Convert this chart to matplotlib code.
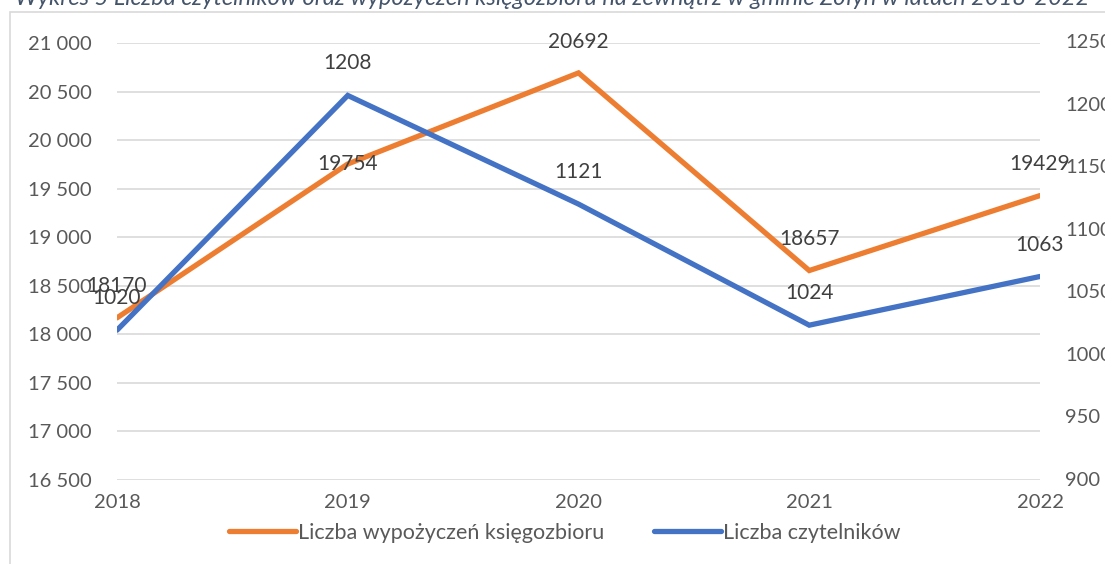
import matplotlib.pyplot as plt
from matplotlib.patches import Rectangle
from matplotlib.transforms import blended_transform_factory

# --- data ---
lata = ["2018", "2019", "2020", "2021", "2022"]
wypozyczenia = [18170, 19754, 20692, 18657, 19429]
czytelnicy = [1020, 1208, 1121, 1024, 1063]

lewe_ticki = list(range(16500, 21001, 500))
prawe_ticki = list(range(900, 1251, 50))

ORANGE = "#ED7D31"
BLUE = "#4472C4"
GRID = "#D9D9D9"
TXT = "#595959"
LBL = "#404040"

plt.rcParams["font.family"] = ["Lato", "DejaVu Sans"]

W, H = 1105, 564
fig = plt.figure(figsize=(W / 100, H / 100), dpi=100)

# ramka wykresu (wychodzi poza obraz)
fig.patches.append(Rectangle((10 / W, -0.1), 1.2, 1 - 12 / H + 0.1,
                             transform=fig.transFigure, fill=False,
                             edgecolor=GRID, linewidth=1.2))

# tytuł (ucięty u góry)
fig.text(0.5, 1 - 5 / H,
         "Wykres 5 Liczba czytelników oraz wypożyczeń księgozbioru na zewnątrz w gminie Żołyń w latach 2018-2022",
         ha="center", va="baseline", fontsize=17, style="italic", color="#44546A")

ax = fig.add_axes([117 / W, 1 - 480 / H, (1040 - 117) / W, (480 - 43) / H])
x = list(range(len(lata)))

ax.set_xlim(0, len(lata) - 1)
ax.set_ylim(16500, 21000)
ax.set_yticks(lewe_ticki)
ax.set_yticklabels([f"{v:,}".replace(",", " ") for v in lewe_ticki])
ax.set_xticks(x)
ax.set_xticklabels(lata)
ax.grid(axis="y", color=GRID, linewidth=1.2)
ax.set_axisbelow(True)
for s in ax.spines.values():
    s.set_visible(False)
ax.tick_params(length=0, labelsize=14.5, colors=TXT)
ax.tick_params(axis="y", pad=18)
ax.tick_params(axis="x", pad=10)

l1, = ax.plot(x, wypozyczenia, color=ORANGE, linewidth=3.8, solid_capstyle="round",
              solid_joinstyle="miter", label="Liczba wypożyczeń księgozbioru")

ax2 = ax.twinx()
ax2.set_ylim(900, 1250)
ax2.set_yticks([])
for s in ax2.spines.values():
    s.set_visible(False)
# prawa oś - etykiety rysowane ręcznie, żeby trzymać odstęp
tr = blended_transform_factory(ax2.transAxes, ax2.transData)
for v in prawe_ticki:
    ax2.text(1 + 25 / 923, v, str(v), transform=tr, ha="left", va="center",
             fontsize=14.5, color=TXT, clip_on=False)

l2, = ax2.plot(x, czytelnicy, color=BLUE, linewidth=3.8, solid_capstyle="round",
               solid_joinstyle="miter", label="Liczba czytelników")

# etykiety danych
off_o = [23, 0, 22, 23, 23]
for i, v in enumerate(wypozyczenia):
    ax.annotate(str(v), (x[i], v), xytext=(0, off_o[i]), textcoords="offset points",
                ha="center", va="center", fontsize=15, color=LBL)
for i, v in enumerate(czytelnicy):
    ax2.annotate(str(v), (x[i], v), xytext=(0, 23), textcoords="offset points",
                 ha="center", va="center", fontsize=15, color=LBL)

fig.legend(handles=[l1, l2], loc="center", bbox_to_anchor=(565 / W, 1 - 533 / H),
           ncol=2, frameon=False, fontsize=15.5, handlelength=3.1, handletextpad=0.1,
           columnspacing=2.3, labelcolor=TXT)

fig.savefig("out.png", dpi=100)
